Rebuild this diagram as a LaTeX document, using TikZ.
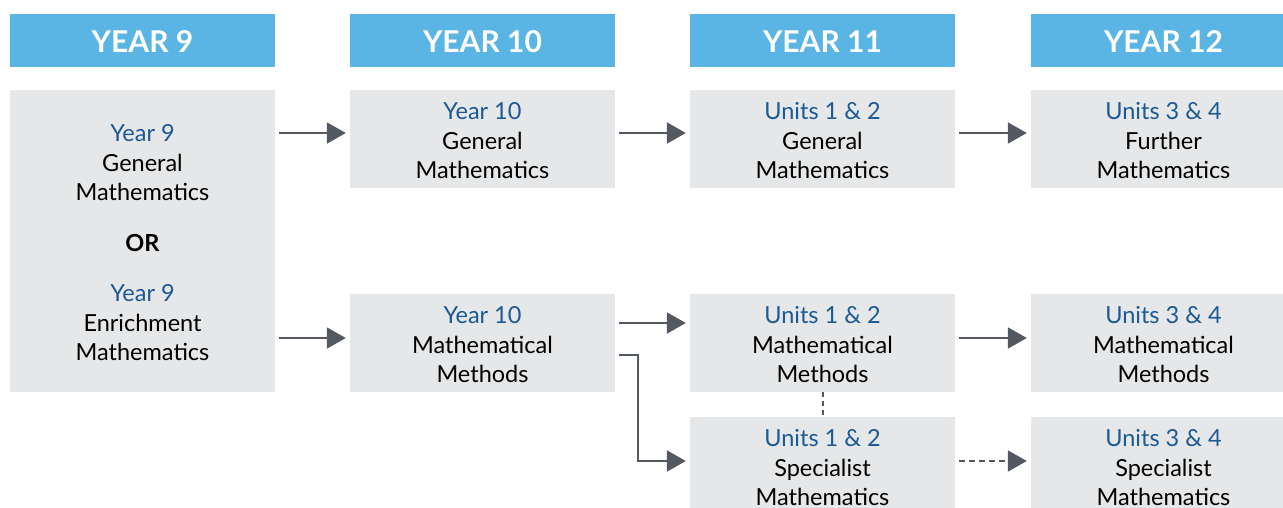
\documentclass[tikz,border=0pt]{standalone}
\usepackage{fontspec}
\setmainfont{Lato}
\usetikzlibrary{arrows.meta}
\definecolor{headblue}{HTML}{5AB5E5}
\definecolor{boxgray}{HTML}{E6E7E8}
\definecolor{textblue}{HTML}{1B5A96}
\definecolor{arrgray}{HTML}{545861}
\newcommand{\blu}[1]{\rule{0pt}{21pt}{\color{textblue}#1}}
\begin{document}
\begin{tikzpicture}[x=1pt,y=-1pt,
head/.style={fill=headblue,text=white,font=\bfseries\fontsize{30}{32}\selectfont,minimum width=265pt,minimum height=53pt,inner sep=0pt,text height=24.5pt,text depth=0pt},
unit/.style={fill=boxgray,text=black,font=\fontsize{23.5}{29.5}\selectfont,align=center,minimum width=265pt,minimum height=98pt,inner sep=0pt},
arr/.style={draw=arrgray,line width=2pt,shorten <=4pt,shorten >=4pt,-{Triangle[length=19pt,width=21pt]}}]
\useasboundingbox[fill=white](0,0) rectangle (1283,507);
\node[head](h9) at (142.5,40.5){YEAR 9};
\node[head](h10) at (482.5,40.5){YEAR 10};
\node[head](h11) at (822.5,40.5){YEAR 11};
\node[head](h12) at (1163.5,40.5){YEAR 12};
\node[unit,minimum height=302pt](y9box) at (142.5,241){\blu{Year 9}\\General\\Mathematics\\[21pt]\textbf{OR}\\[21pt]\blu{Year 9}\\Enrichment\\Mathematics};
\node[unit](y10gen) at (482.5,139){\blu{Year 10}\\General\\Mathematics};
\node[unit](u12gen) at (822.5,139){\blu{Units 1 \& 2}\\General\\Mathematics};
\node[unit](u34fur) at (1163.5,139){\blu{Units 3 \& 4}\\Further\\Mathematics};
\node[unit](y10mm) at (482.5,343){\blu{Year 10}\\Mathematical\\Methods};
\node[unit](u12mm) at (822.5,343){\blu{Units 1 \& 2}\\Mathematical\\Methods};
\node[unit](u34mm) at (1163.5,343){\blu{Units 3 \& 4}\\Mathematical\\Methods};
\node[unit](u12spec) at (822.5,466){\blu{Units 1 \& 2}\\Specialist\\Mathematics};
\node[unit](u34spec) at (1163.5,466){\blu{Units 3 \& 4}\\Specialist\\Mathematics};
\draw[arr]([yshift=108pt]y9box.east)--([yshift=6pt]y10gen.west);
\draw[arr]([yshift=6pt]y10gen.east)--([yshift=6pt]u12gen.west);
\draw[arr]([yshift=6pt]u12gen.east)--([yshift=6pt]u34fur.west);
\draw[arr]([yshift=-97pt]y9box.east)--([yshift=5pt]y10mm.west);
\draw[arr]([yshift=20pt]y10mm.east)--([yshift=20pt]u12mm.west);
\draw[arr]([yshift=-12pt]y10mm.east)--++(23pt,0)|-([yshift=5pt]u12spec.west);
\draw[arr]([yshift=5pt]u12mm.east)--([yshift=5pt]u34mm.west);
\draw[arr,dash pattern=on 6pt off 4pt]([yshift=5pt]u12spec.east)--([yshift=5pt]u34spec.west);
\draw[draw=arrgray,line width=2pt,dash pattern=on 5pt off 4pt](u12mm.south)--(u12spec.north);
\end{tikzpicture}
\end{document}
